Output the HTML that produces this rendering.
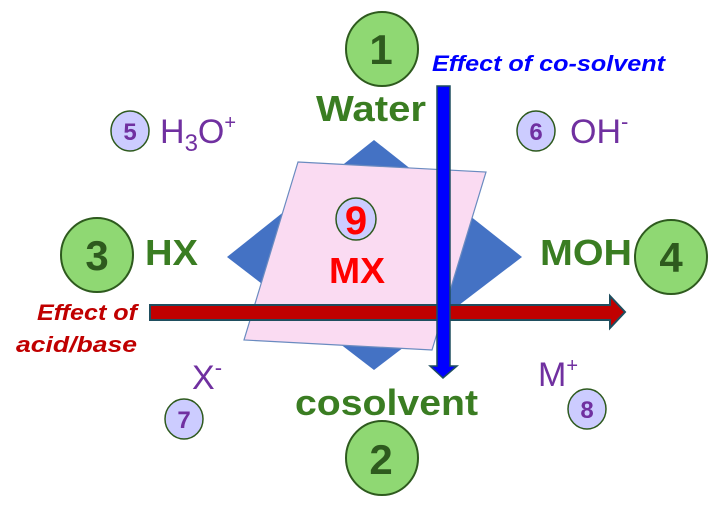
<!DOCTYPE html>
<html><head><style>html,body{margin:0;padding:0;background:#fff;}svg{display:block}</style></head>
<body>
<svg width="721" height="506" viewBox="0 0 721 506" xmlns="http://www.w3.org/2000/svg" font-family="Liberation Sans, sans-serif">
<polygon points="374,140 522,257 374,370 227,257" fill="#4472c4"/>
<polygon points="298,162 486,172 432,350 244,340" fill="#fadbf2" stroke="#6a8bc0" stroke-width="1.2"/>
<ellipse cx="356" cy="219" rx="20" ry="21" fill="#ccccff" stroke="#2e5a1e" stroke-width="1.5"/>
<text x="356" y="234" font-size="40" font-weight="bold" fill="#ff0000" text-anchor="middle">9</text>
<text x="357" y="283" font-size="36" font-weight="bold" fill="#ff0000" text-anchor="middle" textLength="56" lengthAdjust="spacingAndGlyphs">MX</text>
<polygon points="150,305 610,305 610,296 625,312 610,328 610,320 150,320" fill="#c00000" stroke="#1f4e5f" stroke-width="2"/>
<polygon points="437,86 450,86 450,366 457,366 443,378 430,366 437,366" fill="#0000ff" stroke="#1f4e5f" stroke-width="1.5"/>
<g fill="#8fd873" stroke="#2e5a1e" stroke-width="2">
<ellipse cx="382" cy="49" rx="36" ry="37"/>
<ellipse cx="382" cy="458" rx="36" ry="37"/>
<ellipse cx="97" cy="255" rx="36" ry="37"/>
<ellipse cx="671" cy="257" rx="36" ry="37"/>
</g>
<g font-size="42" font-weight="bold" fill="#2e5a1e" text-anchor="middle">
<text x="381" y="64">1</text><text x="381" y="474">2</text><text x="97" y="270">3</text><text x="671" y="272">4</text>
</g>
<g fill="#ccccff" stroke="#2e5a1e" stroke-width="1.5">
<ellipse cx="130" cy="131" rx="19" ry="20"/>
<ellipse cx="536" cy="131" rx="19" ry="20"/>
<ellipse cx="184" cy="419" rx="19" ry="20"/>
<ellipse cx="587" cy="409" rx="19" ry="20"/>
</g>
<g font-size="24" font-weight="bold" fill="#7030a0" text-anchor="middle">
<text x="130" y="140">5</text><text x="536" y="140">6</text><text x="184" y="428">7</text><text x="587" y="418">8</text>
</g>
<g font-size="34" fill="#7030a0">
<text x="160" y="143">H<tspan font-size="24" dy="8">3</tspan><tspan dy="-8">O</tspan><tspan font-size="20" dy="-14">+</tspan></text>
<text x="570" y="143">OH<tspan font-size="22" dy="-14">-</tspan></text>
<text x="192" y="389">X<tspan font-size="22" dy="-14">-</tspan></text>
<text x="538" y="386">M<tspan font-size="20" dy="-14">+</tspan></text>
</g>
<g font-size="36" font-weight="bold" fill="#3a7d22">
<text x="316" y="121" textLength="110" lengthAdjust="spacingAndGlyphs">Water</text>
<text x="295" y="415" textLength="183" lengthAdjust="spacingAndGlyphs">cosolvent</text>
<text x="145" y="265" textLength="53" lengthAdjust="spacingAndGlyphs">HX</text>
<text x="540" y="265" textLength="92" lengthAdjust="spacingAndGlyphs">MOH</text>
</g>
<text x="432" y="71" font-size="22" font-weight="bold" font-style="italic" fill="#0000ff" textLength="233" lengthAdjust="spacingAndGlyphs">Effect of co-solvent</text>
<g font-size="22" font-weight="bold" font-style="italic" fill="#c00000">
<text x="37" y="320" textLength="100" lengthAdjust="spacingAndGlyphs">Effect of</text>
<text x="16" y="352" textLength="121" lengthAdjust="spacingAndGlyphs">acid/base</text>
</g>
</svg>
</body></html>
